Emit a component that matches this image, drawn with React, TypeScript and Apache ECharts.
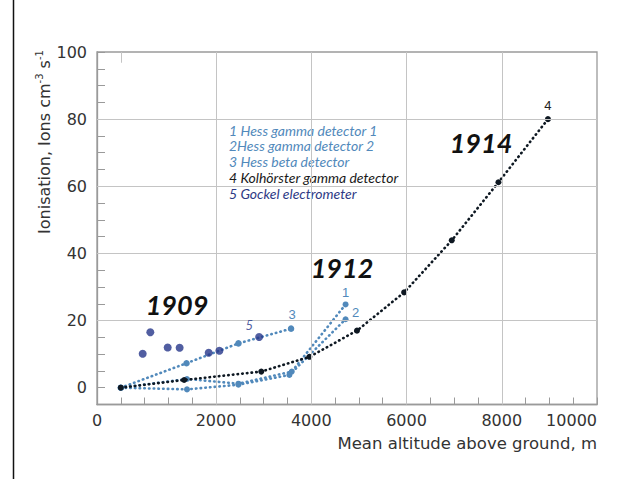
import React, { useEffect, useRef } from 'react';
import * as echarts from 'echarts';

// ---- data ----
const hessGamma1: number[][] = [[0, 0], [1390, 2.6], [2470, 1.2], [3590, 4.8], [4720, 24.8]];
const hessGamma2: number[][] = [[0, 0], [1390, -0.5], [2470, 0.9], [3540, 3.8], [4720, 20.4]];
const hessBeta: number[][] = [[0, 0], [1380, 7.3], [2470, 13.2], [3575, 17.6]];
const kolhorster: number[][] = [[0, 0], [1330, 2.3], [2950, 4.8], [3960, 9.2], [4960, 17.0], [5950, 28.4], [6950, 43.9], [7930, 61.2], [8970, 80.0]];
const gockel: number[][] = [[460, 10.1], [620, 16.5], [985, 12.0], [1235, 11.9], [1845, 10.4], [2070, 11.0], [2905, 15.1]];

const seriesNames = [
  '1 Hess gamma detector 1',
  '2Hess gamma detector 2',
  '3 Hess beta detector',
  '4 Kolhörster gamma detector',
  '5 Gockel electrometer',
];
const pointLabels = ['1', '2', '3', '4', '5'];
const yearLabels = ['1909', '1912', '1914'];

const xGridValues = [2000, 4000, 6000, 8000];
const yGridValues = [20, 40, 60, 80];
const xTickLabels = [2000, 4000, 6000, 8000, 10000];
const yTickLabels = [0, 20, 40, 60, 80, 100];

const LIGHT = '#5189bb';
const NAVY = '#25368a';
const BLACK = '#0e1822';
const GRID = '#c4c4c4';
const AXIS = '#9a9a9a';
const TEXT = '#333333';
const SANS = '"DejaVu Sans", "Liberation Sans", sans-serif';
const LSANS = '"Liberation Sans", Arial, sans-serif';
const HUMAN = 'Lato, "Open Sans", sans-serif';

function withLastLabel(data: number[][], text: string, color: string, offset: number[], italic = false) {
  const idx = data.length - 1;
  return data.map((d, i) =>
    i === idx
      ? {
          value: d,
          label: {
            show: true,
            formatter: text,
            position: 'top',
            offset,
            color,
            fontSize: 13,
            fontStyle: italic ? 'italic' : 'normal',
            fontFamily: italic ? HUMAN : LSANS,
          },
        }
      : { value: d }
  );
}

const dotted = (color: string) => ({
  color,
  width: 2.6,
  type: [0.5, 4.2],
  cap: 'round',
});

export default function App() {
  const ref = useRef<HTMLDivElement>(null);

  useEffect(() => {
    if (!ref.current) return;
    const chart = echarts.init(ref.current, undefined, { renderer: 'svg' });

    const option: any = {
      animation: false,
      backgroundColor: '#ffffff',
      grid: {
        left: 97,
        top: 52,
        right: 24,
        bottom: 74.5,
        show: true,
        borderColor: AXIS,
        borderWidth: 1.3,
        backgroundColor: 'transparent',
      },
      legend: {
        orient: 'vertical',
        left: 217,
        top: 120,
        padding: [3, 3, 5, 7],
        backgroundColor: '#ffffff',
        itemGap: 1.9,
        itemWidth: 0,
        itemHeight: 0,
        icon: 'rect',
        selectedMode: false,
        itemStyle: { opacity: 0, borderWidth: 0 },
        lineStyle: { opacity: 0, width: 0 },
        textStyle: { fontSize: 14, fontStyle: 'italic', fontFamily: HUMAN },
        data: [
          { name: seriesNames[0], textStyle: { color: LIGHT } },
          { name: seriesNames[1], textStyle: { color: LIGHT } },
          { name: seriesNames[2], textStyle: { color: LIGHT } },
          { name: seriesNames[3], textStyle: { color: '#1a1a1a' } },
          { name: seriesNames[4], textStyle: { color: '#2e3a85' } },
        ],
      },
      xAxis: {
        type: 'value',
        min: -500,
        max: 10000,
        interval: 500,
        axisLine: { show: true, onZero: false, lineStyle: { color: AXIS, width: 1.3 } },
        axisTick: { show: true, inside: true, length: 7, lineStyle: { color: AXIS } },
        splitLine: { show: false },
        axisLabel: {
          show: true,
          margin: 8,
          fontSize: 16,
          fontFamily: SANS,
          color: TEXT,
          showMinLabel: true,
          showMaxLabel: true,
          alignMaxLabel: 'right',
          formatter: (v: number) => (v === -500 ? '0' : xTickLabels.includes(v) ? String(v) : ''),
        },
      },
      yAxis: {
        type: 'value',
        min: -5,
        max: 100,
        interval: 5,
        axisLine: { show: true, onZero: false, lineStyle: { color: AXIS, width: 1.3 } },
        axisTick: { show: true, inside: true, length: 8, lineStyle: { color: AXIS } },
        splitLine: { show: false },
        axisLabel: {
          show: true,
          margin: 10,
          fontSize: 16,
          fontFamily: SANS,
          color: TEXT,
          padding: [3, 0, 0, 0],
          formatter: (v: number) => (yTickLabels.includes(v) ? String(v) : ''),
        },
      },
      series: [
        {
          type: 'line',
          name: '__grid',
          data: [],
          z: 1,
          silent: true,
          markLine: {
            silent: true,
            symbol: 'none',
            animation: false,
            label: { show: false },
            lineStyle: { color: GRID, width: 1, type: 'solid' },
            data: [
              ...xGridValues.map((v) => ({ xAxis: v })),
              ...yGridValues.map((v) => ({ yAxis: v })),
              [{ coord: [0, 100] }, { coord: [0, 96.8] }],
            ],
          },
        },
        {
          type: 'line',
          name: seriesNames[0],
          z: 3,
          data: withLastLabel(hessGamma1, pointLabels[0], LIGHT, [0, 3]),
          symbol: 'circle',
          symbolSize: 6,
          itemStyle: { color: LIGHT },
          lineStyle: dotted(LIGHT),
        },
        {
          type: 'line',
          name: seriesNames[1],
          z: 3,
          data: withLastLabel(hessGamma2, pointLabels[1], LIGHT, [10, 8]),
          symbol: 'circle',
          symbolSize: 6,
          itemStyle: { color: LIGHT },
          lineStyle: dotted(LIGHT),
        },
        {
          type: 'line',
          name: seriesNames[2],
          z: 3,
          data: withLastLabel(hessBeta, pointLabels[2], LIGHT, [1, 1]),
          symbol: 'circle',
          symbolSize: 6.5,
          itemStyle: { color: LIGHT },
          lineStyle: dotted(LIGHT),
        },
        {
          type: 'line',
          name: seriesNames[3],
          z: 4,
          data: withLastLabel(kolhorster, pointLabels[3], '#222222', [0, 1]),
          symbol: 'circle',
          symbolSize: 6,
          itemStyle: { color: BLACK },
          lineStyle: dotted(BLACK),
        },
        {
          type: 'scatter',
          name: seriesNames[4],
          z: 5,
          data: withLastLabel(gockel, pointLabels[4], NAVY, [-10, 3], true),
          symbol: 'circle',
          symbolSize: 8,
          itemStyle: { color: NAVY },
        },
      ],
      graphic: [
        {
          type: 'line',
          shape: { x1: 13.5, y1: 0, x2: 13.5, y2: 479 },
          style: { stroke: '#111111', lineWidth: 1.5 },
        },
        {
          type: 'text',
          x: 43,
          y: 142,
          rotation: Math.PI / 2,
          style: {
            text: '{a|Ionisation, Ions cm}{s|-3}{a| s}{s|-1}',
            align: 'center',
            verticalAlign: 'middle',
            textAlign: 'center',
            textVerticalAlign: 'middle',
            rich: {
              a: { fontSize: 16, fontFamily: SANS, fill: TEXT, lineHeight: 18, verticalAlign: 'bottom' },
              s: { fontSize: 10, fontFamily: SANS, fill: TEXT, lineHeight: 18, verticalAlign: 'top' },
            },
          },
        },
        {
          type: 'text',
          x: 597,
          y: 443,
          style: {
            text: 'Mean altitude above ground, m',
            font: `16.5px ${SANS}`,
            fill: TEXT,
            align: 'right',
            verticalAlign: 'middle',
            textAlign: 'right',
            textVerticalAlign: 'middle',
          },
        },
        ...yearLabels.map((t, i) => ({
          type: 'text',
          x: [177, 342, 481][i],
          y: [304, 267, 142][i],
          z: 10,
          style: {
            text: t,
            font: `italic bold 27px ${HUMAN}`,
            fill: '#111111',
            align: 'center',
            verticalAlign: 'middle',
            textAlign: 'center',
            textVerticalAlign: 'middle',
          },
        })),
      ],
    };

    chart.setOption(option);
    return () => chart.dispose();
  }, []);

  return (
    <div
      ref={ref}
      style={{ position: 'absolute', left: 0, top: 0, width: 621, height: 479, background: '#fff' }}
    />
  );
}
